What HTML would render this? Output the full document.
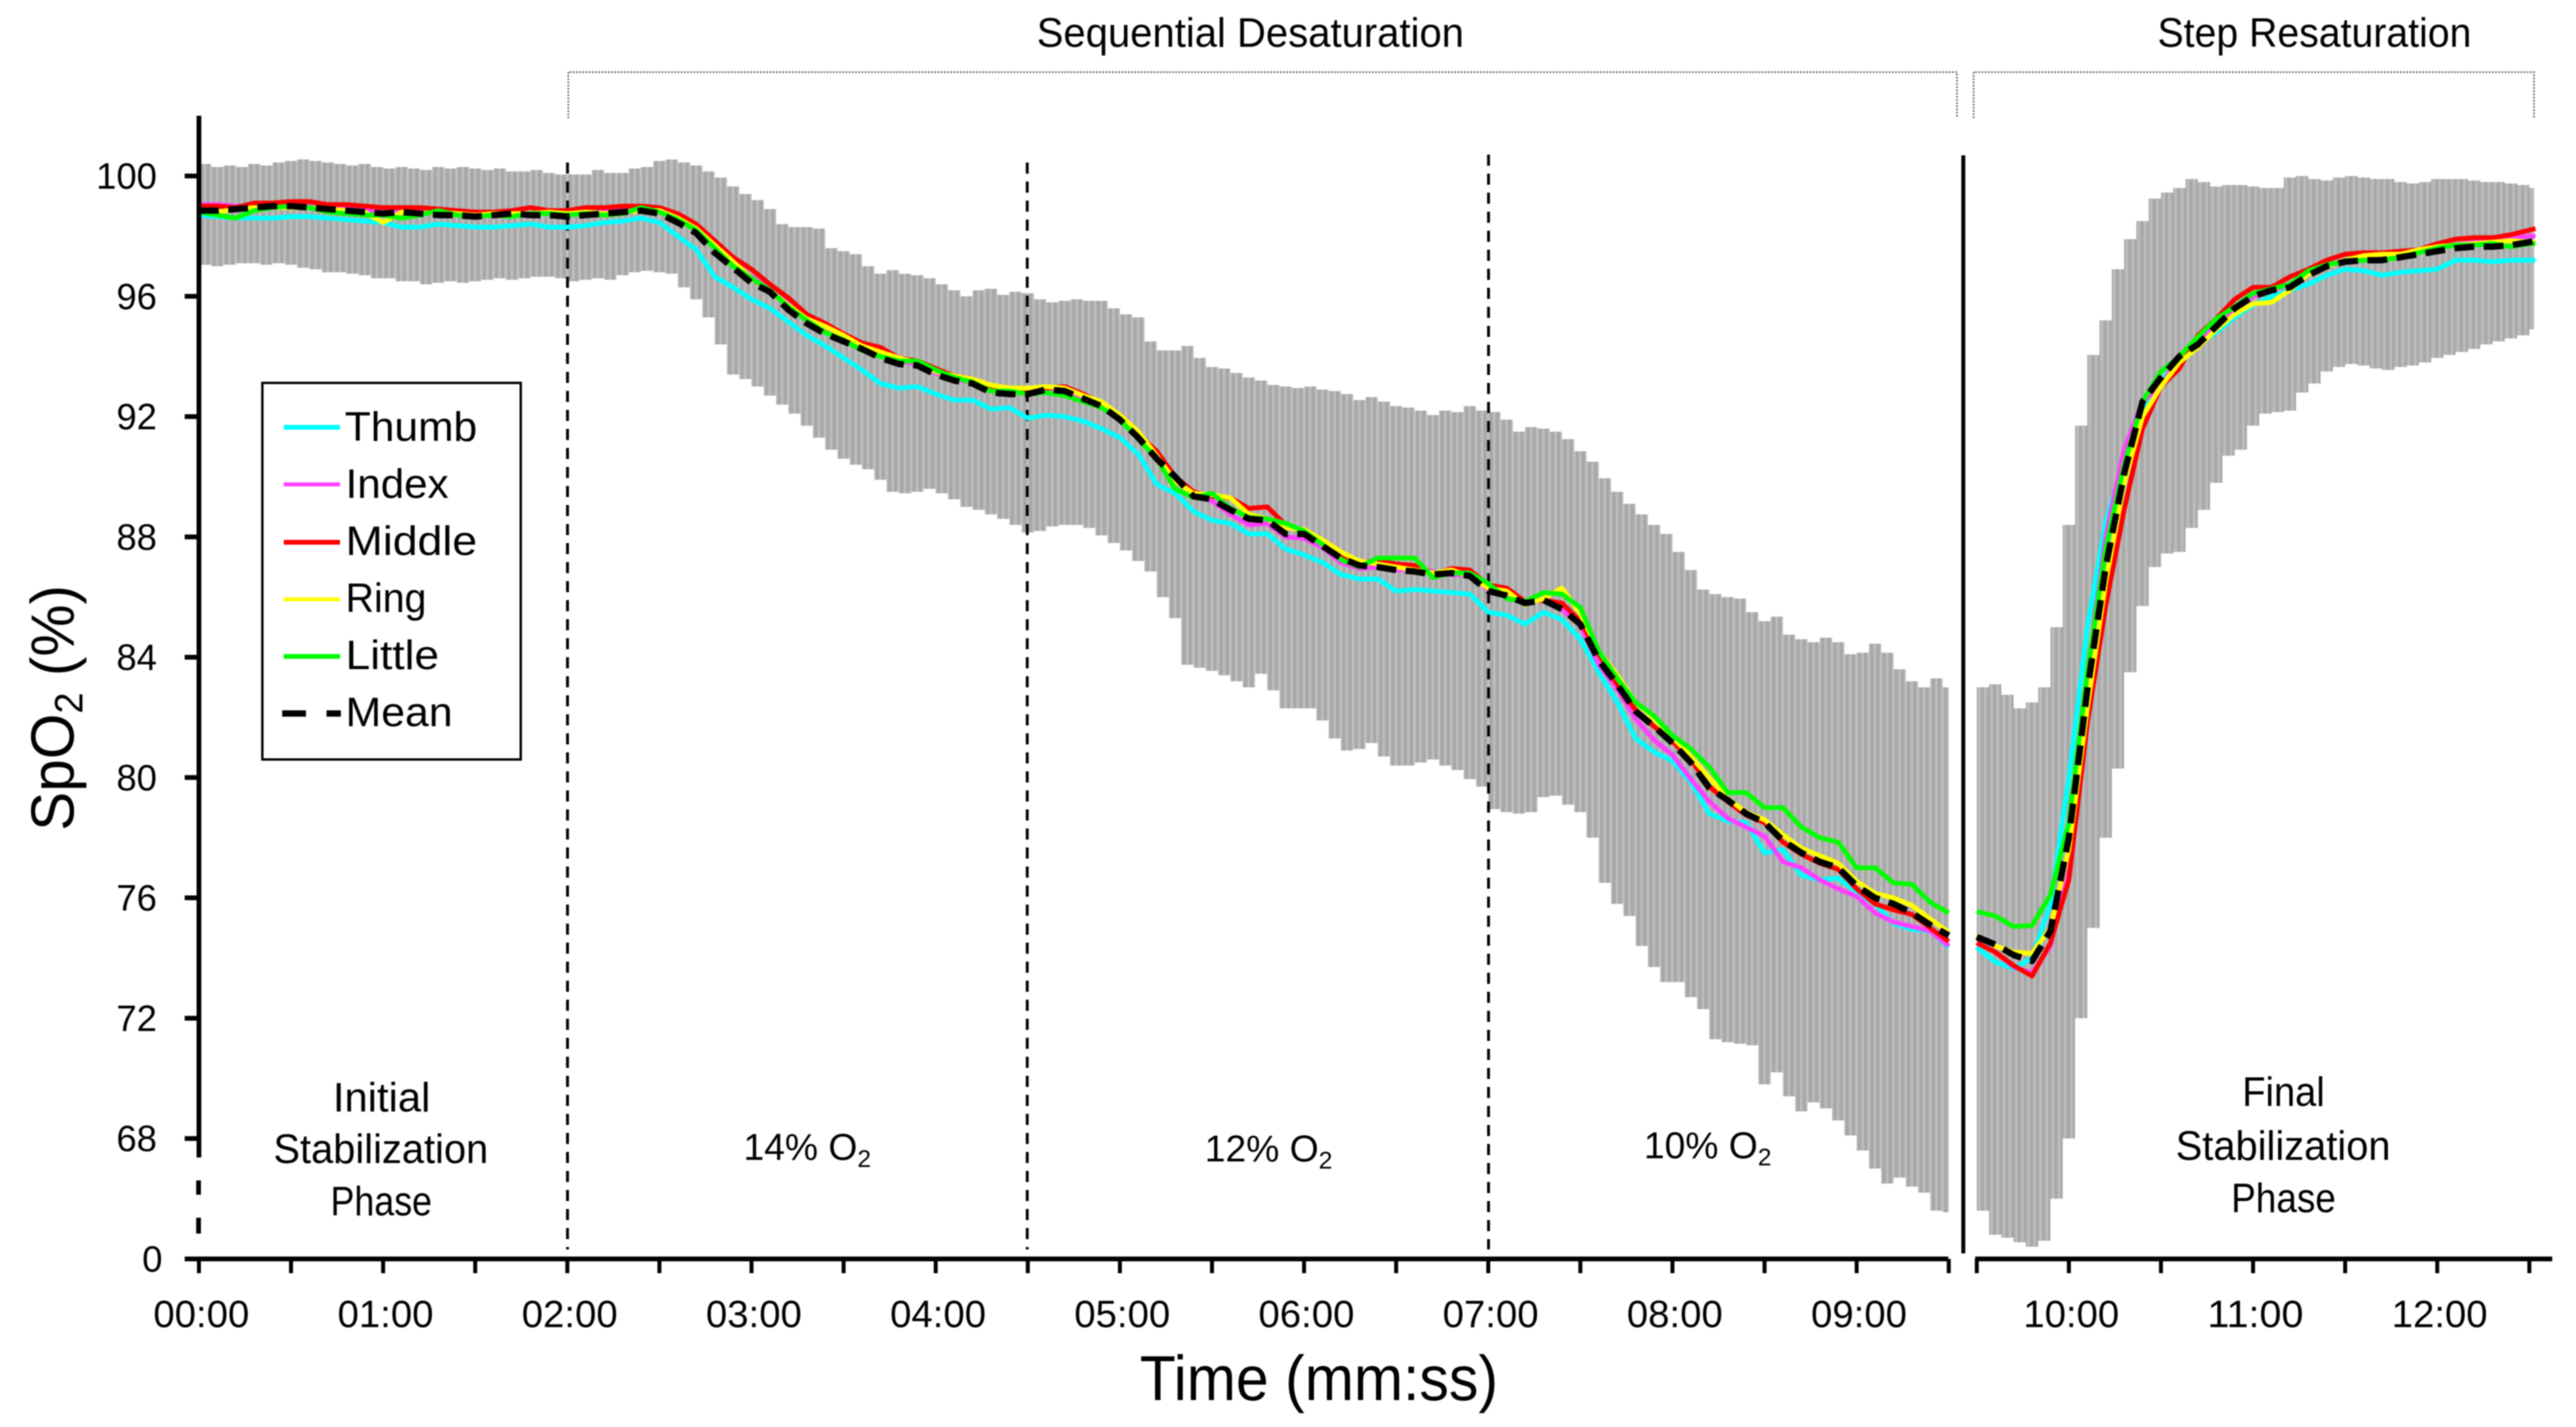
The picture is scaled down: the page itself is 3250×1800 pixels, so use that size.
<!DOCTYPE html>
<html lang="en">
<head>
<meta charset="utf-8">
<title>SpO2 during sequential desaturation and step resaturation</title>
<style>
html,body{margin:0;padding:0;background:#fff;}
#chart{display:block;width:3250px;height:1800px;filter:blur(0.7px);}
text{font-family:"Liberation Sans",sans-serif;fill:#000;}
</style>
</head>
<body>
<svg id="chart" xmlns="http://www.w3.org/2000/svg" width="3250" height="1800" viewBox="0 0 3250 1800">
<defs>
<pattern id="barStripes" patternUnits="userSpaceOnUse" width="7.746" height="10" x="251" y="0">
<rect width="7.746" height="10" fill="#bcbcbc"/>
<rect x="1.6" width="4.2" height="10" fill="#a7a7a7"/>
</pattern>
</defs>
<g id="bars"></g>
<g id="phaseLines">
<line x1="716" x2="716" y1="205" y2="1576" stroke="#000" stroke-width="3.6" stroke-dasharray="14 10"/>
<line x1="1296" x2="1296" y1="205" y2="1576" stroke="#000" stroke-width="3.6" stroke-dasharray="14 10"/>
<line x1="1878" x2="1878" y1="195" y2="1576" stroke="#000" stroke-width="3.6" stroke-dasharray="14 10"/>
<line x1="2477" x2="2477" y1="196" y2="1581" stroke="#000" stroke-width="5"/>
</g>
<g id="series"></g>
<g id="axes">
<line x1="251" x2="251" y1="146" y2="1460" stroke="#000" stroke-width="6"/>
<line x1="250.5" x2="250.5" y1="1489" y2="1507" stroke="#000" stroke-width="6"/>
<line x1="250.5" x2="250.5" y1="1536" y2="1556" stroke="#000" stroke-width="6"/>
<line x1="233" x2="2458" y1="1588" y2="1588" stroke="#000" stroke-width="6"/>
<line x1="2492" x2="3220" y1="1588" y2="1588" stroke="#000" stroke-width="6"/>
</g>
<g id="yTicks"></g>
<g id="xTicks"></g>

<text x="1438" y="1766" font-size="80" textLength="452" lengthAdjust="spacingAndGlyphs">Time (mm:ss)</text>
<text transform="translate(93,1048) rotate(-90) scale(0.96,1)" font-size="77">SpO<tspan font-size="50" dy="11">2</tspan><tspan dy="-11"> (%)</tspan></text>

<g>
<polyline points="717,149 717,91 2469,91 2469,149" fill="none" stroke="#555" stroke-width="2" stroke-dasharray="2 2"/>
<text x="1308" y="59" font-size="52" textLength="539" lengthAdjust="spacingAndGlyphs">Sequential Desaturation</text>
</g>
<g>
<polyline points="2490,149 2490,91 3197,91 3197,149" fill="none" stroke="#555" stroke-width="2" stroke-dasharray="2 2"/>
<text x="2722" y="59" font-size="52" textLength="396" lengthAdjust="spacingAndGlyphs">Step Resaturation</text>
</g>

<g font-size="52">
<text x="420" y="1402" textLength="123" lengthAdjust="spacingAndGlyphs">Initial</text>
<text x="345" y="1467" textLength="271" lengthAdjust="spacingAndGlyphs">Stabilization</text>
<text x="417" y="1533" textLength="128" lengthAdjust="spacingAndGlyphs">Phase</text>
</g>
<g font-size="52">
<text x="2829" y="1395" textLength="104" lengthAdjust="spacingAndGlyphs">Final</text>
<text x="2745" y="1463" textLength="271" lengthAdjust="spacingAndGlyphs">Stabilization</text>
<text x="2815" y="1529" textLength="132" lengthAdjust="spacingAndGlyphs">Phase</text>
</g>
<text x="938" y="1463" font-size="47">14% O<tspan font-size="31" dy="9">2</tspan></text>
<text x="1520" y="1465" font-size="47">12% O<tspan font-size="31" dy="9">2</tspan></text>
<text x="2074" y="1461" font-size="47">10% O<tspan font-size="31" dy="9">2</tspan></text>

<g>
<rect x="331" y="483" width="326" height="475" fill="#fff" stroke="#000" stroke-width="3"/>
<g><line x1="358" x2="429" y1="539" y2="539" stroke="#00ffff" stroke-width="6"/><text x="435" y="556" font-size="52" textLength="167" lengthAdjust="spacingAndGlyphs">Thumb</text></g>
<g><line x1="358" x2="429" y1="611" y2="611" stroke="#ff40ff" stroke-width="5"/><text x="436" y="628" font-size="52" textLength="130" lengthAdjust="spacingAndGlyphs">Index</text></g>
<g><line x1="358" x2="429" y1="684" y2="684" stroke="#ff0000" stroke-width="6"/><text x="436" y="700" font-size="52" textLength="166" lengthAdjust="spacingAndGlyphs">Middle</text></g>
<g><line x1="358" x2="429" y1="756" y2="756" stroke="#ffff00" stroke-width="5"/><text x="436" y="772" font-size="52" textLength="102" lengthAdjust="spacingAndGlyphs">Ring</text></g>
<g><line x1="358" x2="429" y1="828" y2="828" stroke="#00ff00" stroke-width="6"/><text x="436" y="844" font-size="52" textLength="118" lengthAdjust="spacingAndGlyphs">Little</text></g>
<g><line x1="356" x2="386" y1="900" y2="900" stroke="#000" stroke-width="8"/><line x1="412" x2="430" y1="900" y2="900" stroke="#000" stroke-width="8"/><text x="436" y="916" font-size="52" textLength="135" lengthAdjust="spacingAndGlyphs">Mean</text></g>
</g>
</svg>

<script>
/* ---- Chart data ---- */
const yTickValues = [100, 96, 92, 88, 84, 80, 76, 72, 68];
const xTickSecondsLeft = [0, 30, 60, 90, 120, 150, 180, 210, 240, 270, 300, 330, 360, 390, 420, 450, 480, 510, 540, 570];
const xTickSecondsRight = [570, 600, 630, 660, 690, 720, 750];
const xTickLabelsLeft = {0:'00:00',60:'01:00',120:'02:00',180:'03:00',240:'04:00',300:'05:00',360:'06:00',420:'07:00',480:'08:00',540:'09:00'};
const xTickLabelsRight = {600:'10:00',660:'11:00',720:'12:00'};

/* error bar ends: left segment every 4 s from 0 s, right segment every 4 s from 570 s */
const upperLeft = [
100.4,100.3,100.35,100.3,100.4,100.35,100.45,100.5,100.55,100.5,
100.45,100.4,100.35,100.4,100.3,100.25,100.3,100.25,100.2,100.3,
100.25,100.3,100.25,100.2,100.25,100.15,100.15,100.2,100.1,100.05,
100.05,100.05,100.2,100.1,100.1,100.25,100.3,100.5,100.55,100.45,
100.35,100.15,99.95,99.65,99.4,99.2,98.9,98.4,98.3,98.3,
98.25,97.6,97.5,97.4,97.0,96.75,96.87,96.75,96.7,96.6,
96.4,96.2,96.0,96.2,96.25,96.05,96.15,96.1,95.9,95.8,
95.85,95.9,95.85,95.85,95.6,95.4,95.3,94.5,94.2,94.2,
94.35,93.95,93.65,93.6,93.45,93.3,93.2,93.05,93.0,92.95,
93.0,92.9,92.85,92.75,92.55,92.65,92.5,92.35,92.3,92.2,
92.05,92.2,92.15,92.35,92.2,92.15,91.9,91.5,91.65,91.6,
91.5,91.25,90.85,90.5,89.95,89.5,89.1,88.75,88.4,88.1,
87.5,86.9,86.25,86.1,86.0,85.95,85.5,85.2,85.35,84.75,
84.6,84.5,84.65,84.5,84.1,84.15,84.45,84.15,83.6,83.2,
83.0,83.3,83.0];
const lowerLeft = [
97.05,97.0,97.05,97.1,97.1,97.05,97.1,97.05,96.95,96.9,
96.8,96.8,96.75,96.7,96.6,96.6,96.5,96.5,96.4,96.45,
96.5,96.45,96.5,96.55,96.6,96.55,96.6,96.65,96.65,96.6,
96.5,96.55,96.6,96.55,96.7,96.8,96.85,96.8,96.75,96.3,
95.9,95.3,94.4,93.4,93.25,93.0,92.7,92.4,92.1,91.7,
91.3,90.9,90.6,90.4,90.25,89.9,89.5,89.45,89.5,89.6,
89.45,89.25,89.0,88.9,88.75,88.6,88.4,88.15,88.2,88.35,
88.4,88.4,88.3,88.05,87.8,87.55,87.2,86.85,86.0,85.3,
83.75,83.65,83.55,83.4,83.2,83.0,83.45,82.9,82.3,82.3,
82.3,81.9,81.3,80.9,80.95,81.15,80.7,80.4,80.4,80.5,
80.6,80.4,80.25,79.95,79.7,78.95,78.85,78.8,78.85,79.35,
79.4,79.1,78.85,78.0,76.5,75.8,75.4,74.4,73.7,73.2,
73.2,72.7,72.3,71.3,71.2,71.15,71.1,69.8,70.2,69.4,
68.9,69.2,69.0,68.6,68.1,67.6,67.0,66.5,66.7,66.4,
66.2,65.6,65.55];
const upperRight = [
83.0,83.1,82.75,82.3,82.5,83.0,85.0,88.4,91.7,94.05,
95.2,96.9,97.9,98.5,99.25,99.45,99.6,99.9,99.8,99.65,
99.7,99.7,99.65,99.6,99.6,99.95,100.0,99.9,99.85,99.95,
100.0,99.95,99.9,99.9,99.8,99.75,99.8,99.9,99.9,99.9,
99.85,99.8,99.8,99.75,99.7,99.6];
const lowerRight = [
65.6,64.8,64.7,64.55,64.4,64.6,66.0,68.0,72.0,75.0,
78.0,80.3,83.5,85.7,87.0,87.45,87.5,88.3,88.9,89.8,
90.7,90.9,91.7,92.1,92.15,92.2,92.8,93.1,93.5,93.65,
93.75,93.7,93.6,93.55,93.65,93.7,93.8,93.95,94.05,94.15,
94.25,94.4,94.5,94.6,94.7,94.9];

/* finger lines: left segment every 6 s from 0 s to 570 s */
const thumbLeft = [
98.7,98.65,98.6,98.6,98.6,98.65,98.65,98.6,98.55,98.5,
98.45,98.3,98.3,98.4,98.35,98.3,98.3,98.35,98.4,98.3,
98.3,98.35,98.45,98.5,98.6,98.45,98.0,97.55,96.65,96.3,
95.9,95.6,95.15,94.7,94.35,93.95,93.55,93.1,92.95,93.0,
92.75,92.55,92.55,92.25,92.3,91.95,92.05,92.0,91.85,91.6,
91.3,90.75,89.75,89.45,88.85,88.55,88.45,88.1,88.1,87.6,
87.4,87.15,86.75,86.6,86.6,86.2,86.25,86.2,86.15,86.1,
85.5,85.4,85.1,85.5,85.25,84.6,83.5,82.5,81.3,80.85,
80.55,79.85,78.8,78.55,78.5,77.5,77.6,76.75,76.6,76.65,
76.2,75.8,75.15,74.95,74.9,74.35];
const indexLeft = [
99.05,99.05,99.0,99.0,99.05,99.05,99.0,98.95,98.9,98.85,
98.8,98.8,98.8,98.75,98.75,98.7,98.7,98.75,98.75,98.75,
98.7,98.75,98.8,98.85,98.85,98.8,98.55,98.2,97.6,97.1,
96.65,96.25,95.8,95.25,94.95,94.65,94.35,94.2,93.85,93.75,
93.45,93.25,93.15,92.85,92.85,92.8,92.95,92.9,92.65,92.35,
91.9,91.35,90.7,89.95,89.4,89.2,88.75,88.4,88.45,88.0,
87.95,87.65,87.15,86.95,87.0,86.9,86.95,86.85,86.75,86.75,
86.25,86.05,85.8,85.9,85.6,85.05,83.75,82.95,81.95,81.25,
80.75,79.95,79.2,78.65,78.35,78.05,77.2,77.0,76.6,76.3,
76.05,75.5,75.2,75.05,74.9,74.4];
const middleLeft = [
99.0,99.0,98.95,99.1,99.1,99.15,99.15,99.05,99.05,99.0,
98.95,98.95,98.95,98.9,98.85,98.8,98.8,98.85,98.95,98.85,
98.85,98.95,98.95,99.0,99.0,98.95,98.75,98.4,97.85,97.3,
96.9,96.4,95.95,95.4,95.1,94.75,94.45,94.3,93.95,93.85,
93.6,93.35,93.25,93.0,92.9,92.9,92.95,93.0,92.75,92.45,
91.95,91.4,90.85,90.0,89.5,89.35,89.3,88.95,89.0,88.4,
88.2,87.8,87.4,87.15,87.2,87.1,87.05,86.75,86.95,86.9,
86.4,86.3,85.85,85.9,85.8,85.2,84.1,83.1,82.25,81.7,
81.2,80.6,79.7,79.2,78.75,78.5,77.85,77.45,77.15,76.95,
76.3,75.8,75.6,75.45,75.0,74.55];
const ringLeft = [
98.85,98.8,98.9,98.95,98.95,98.95,98.95,98.9,98.85,98.8,
98.45,98.8,98.75,98.8,98.75,98.7,98.75,98.75,98.75,98.8,
98.75,98.8,98.75,98.8,98.85,98.85,98.6,98.25,97.7,97.15,
96.6,96.2,95.7,95.25,95.0,94.7,94.35,94.15,93.95,93.8,
93.5,93.35,93.25,93.05,92.95,92.95,93.0,92.95,92.7,92.5,
92.05,91.5,90.7,89.85,89.45,89.4,89.3,88.75,88.6,88.3,
88.25,87.9,87.5,87.2,87.1,87.0,86.9,86.8,86.9,86.7,
86.3,86.2,85.75,85.95,86.3,85.45,84.2,83.4,82.5,81.95,
81.35,80.7,80.0,79.3,78.85,78.6,78.1,77.65,77.4,77.15,
76.55,76.15,76.0,75.75,75.3,74.85];
const littleLeft = [
98.8,98.7,98.6,98.85,98.95,99.0,98.95,98.8,98.75,98.7,
98.7,98.6,98.7,98.85,98.7,98.65,98.7,98.65,98.75,98.75,
98.7,98.75,98.7,98.75,98.95,98.8,98.55,98.2,97.6,97.0,
96.6,96.2,95.65,95.2,94.8,94.55,94.2,94.0,93.85,93.85,
93.55,93.3,93.15,92.85,92.85,92.75,92.8,92.7,92.5,92.3,
91.9,91.25,90.6,89.6,89.3,89.45,88.95,88.65,88.6,88.45,
88.2,87.75,87.25,87.0,87.3,87.3,87.3,86.65,86.8,86.8,
86.45,85.95,85.85,86.15,86.1,85.65,84.2,83.3,82.5,82.05,
81.4,80.95,80.35,79.5,79.5,79.0,79.0,78.35,78.0,77.85,
77.0,77.0,76.5,76.45,75.85,75.5];
const meanLeft = [
98.85,98.85,98.9,98.95,99.0,99.0,98.95,98.9,98.85,98.8,
98.75,98.8,98.75,98.7,98.7,98.65,98.7,98.75,98.7,98.7,
98.65,98.7,98.75,98.8,98.85,98.75,98.45,98.1,97.45,96.95,
96.45,96.15,95.55,95.1,94.75,94.5,94.25,93.95,93.75,93.7,
93.4,93.2,93.1,92.8,92.75,92.75,92.9,92.85,92.6,92.35,
91.9,91.3,90.6,90.0,89.35,89.25,88.9,88.6,88.55,88.1,
88.1,87.7,87.3,87.05,87.0,86.9,86.85,86.75,86.8,86.7,
86.2,86.05,85.8,85.9,85.6,85.1,83.9,83.1,82.2,81.7,
81.15,80.5,79.65,79.25,78.8,78.5,77.9,77.5,77.2,77.0,
76.4,76.0,75.8,75.5,75.1,74.75];

/* finger lines: right segment, sample times in seconds */
const timesRight = [570,576,582,588,594,600,606,612,618,624,630,636,642,648,654,660,666,672,678,684,690,696,702,708,714,720,726,732,738,744,750,752];
const thumbRight = [74.35,73.87,73.65,74.0,75.8,80.0,85.0,88.5,90.5,92.3,93.2,93.8,94.4,94.8,95.3,95.7,96.0,96.2,96.4,96.7,96.9,96.85,96.7,96.8,96.85,96.9,97.2,97.2,97.15,97.2,97.2,97.2];
const indexRight = [74.5,74.2,73.7,73.5,74.4,77.5,83.4,88.0,90.9,92.5,93.0,94.0,94.5,95.0,95.5,96.0,96.2,96.4,96.75,97.0,97.2,97.3,97.3,97.25,97.5,97.65,97.7,97.8,97.9,97.95,98.0,98.0];
const middleRight = [74.5,74.2,73.75,73.4,74.5,76.6,81.8,85.7,88.9,91.6,93.0,93.6,94.7,95.25,95.9,96.3,96.3,96.65,96.9,97.2,97.4,97.45,97.45,97.5,97.55,97.75,97.9,97.95,97.95,98.05,98.2,98.25];
const ringRight = [74.75,74.4,74.2,74.15,75.0,77.6,82.3,86.5,89.8,92.0,93.0,93.8,94.3,94.9,95.4,95.75,95.8,96.2,96.75,97.0,97.2,97.35,97.4,97.4,97.55,97.65,97.7,97.75,97.8,97.85,97.8,97.8];
const littleRight = [75.54,75.4,75.05,75.08,76.1,78.5,83.5,87.6,90.4,92.5,93.5,94.0,94.65,95.25,95.65,96.1,96.25,96.4,96.85,97.05,97.15,97.2,97.2,97.3,97.45,97.6,97.7,97.7,97.75,97.65,97.75,97.75];
const meanRight = [74.7,74.45,74.1,73.9,74.9,78.0,82.9,87.0,90.1,92.5,93.3,94.0,94.4,95.0,95.6,96.0,96.2,96.3,96.7,97.0,97.15,97.2,97.2,97.3,97.4,97.5,97.6,97.65,97.65,97.7,97.8,97.85];

/* ---- Axis functions ---- */
function yScale(v) { return 222 + (100 - v) * 37.94; }
function xLeft(t) { return 251 + t * 3.873; }
function xRight(t) { return 2494 + (t - 570) * 3.873; }

const svgNS = 'http://www.w3.org/2000/svg';
function make(tag, parent) {
  const el = document.createElementNS(svgNS, tag);
  parent.appendChild(el);
  return el;
}

/* ---- Error bars ---- */
const barsGroup = document.getElementById('bars');
function drawBars(upper, lower, start, end, xFn) {
  upper.forEach(function (u, i) {
    const t = start + i * 4;
    const tNext = Math.min(t + 4, end);
    const r = make('rect', barsGroup);
    
    
    r.setAttribute('x', xFn(t));
    r.setAttribute('width', Math.max(0, xFn(tNext) - xFn(t)));
    r.setAttribute('y', yScale(u));
    r.setAttribute('height', yScale(lower[i]) - yScale(u));
    r.setAttribute('fill', 'url(#barStripes)');
  });
}
drawBars(upperLeft, lowerLeft, 0, 570, xLeft);
drawBars(upperRight, lowerRight, 570, 751.5, xRight);

/* ---- Lines ---- */
const seriesGroup = document.getElementById('series');
function drawLine(name, left, right, color, width, dash) {
  const g = make('g', seriesGroup);
  
  
  const a = make('polyline', g);
  
  
  a.setAttribute('points', left.map(function (v, i) { return xLeft(i * 6) + ',' + yScale(v); }).join(' '));
  const b = make('polyline', g);
  
  
  b.setAttribute('points', right.map(function (v, i) { return xRight(timesRight[i]) + ',' + yScale(v); }).join(' '));
  [a, b].forEach(function (p) {
    p.setAttribute('fill', 'none');
    p.setAttribute('stroke', color);
    p.setAttribute('stroke-width', width);
    p.setAttribute('stroke-linejoin', 'round');
    if (dash) { p.setAttribute('stroke-dasharray', dash); }
  });
}
drawLine('thumb-line', thumbLeft, thumbRight, '#00ffff', 6, null);
drawLine('index-line', indexLeft, indexRight, '#ff40ff', 6, null);
drawLine('middle-line', middleLeft, middleRight, '#ff0000', 6, null);
drawLine('ring-line', ringLeft, ringRight, '#ffff00', 6, null);
drawLine('little-line', littleLeft, littleRight, '#00ff00', 6, null);
drawLine('mean-line', meanLeft, meanRight, '#000000', 8, '25 12');

/* ---- Y ticks ---- */
const yTicksGroup = document.getElementById('yTicks');
function drawYTick(y, label, rightEdge) {
  const tick = make('line', yTicksGroup);
  
  
  tick.setAttribute('x1', 233);
  tick.setAttribute('x2', 251);
  tick.setAttribute('y1', y);
  tick.setAttribute('y2', y);
  tick.setAttribute('stroke', '#000');
  tick.setAttribute('stroke-width', 6);
  const txt = make('text', yTicksGroup);
  
  
  txt.setAttribute('x', rightEdge);
  txt.setAttribute('y', y + 16);
  txt.setAttribute('text-anchor', 'end');
  txt.setAttribute('font-size', 46);
  txt.textContent = label;
}
yTickValues.forEach(function (v) { drawYTick(yScale(v), String(v), 198); });
drawYTick(1588, '0', 205);

/* ---- X ticks ---- */
const xTicksGroup = document.getElementById('xTicks');
function drawXTicks(seconds, labels, xFn) {
  seconds.forEach(function (t) {
    const tick = make('line', xTicksGroup);
    
    
    tick.setAttribute('x1', xFn(t));
    tick.setAttribute('x2', xFn(t));
    tick.setAttribute('y1', 1588);
    tick.setAttribute('y2', 1606);
    tick.setAttribute('stroke', '#000');
    tick.setAttribute('stroke-width', 5);
    if (labels[t]) {
      const txt = make('text', xTicksGroup);
      
      
      txt.setAttribute('x', xFn(t) + 3 - 60.5);
      txt.setAttribute('y', 1674);
      txt.setAttribute('font-size', 48);
      txt.setAttribute('textLength', 121);
      txt.setAttribute('lengthAdjust', 'spacingAndGlyphs');
      txt.textContent = labels[t];
    }
  });
}
drawXTicks(xTickSecondsLeft, xTickLabelsLeft, xLeft);
drawXTicks(xTickSecondsRight, xTickLabelsRight, xRight);
</script>
</body>
</html>
